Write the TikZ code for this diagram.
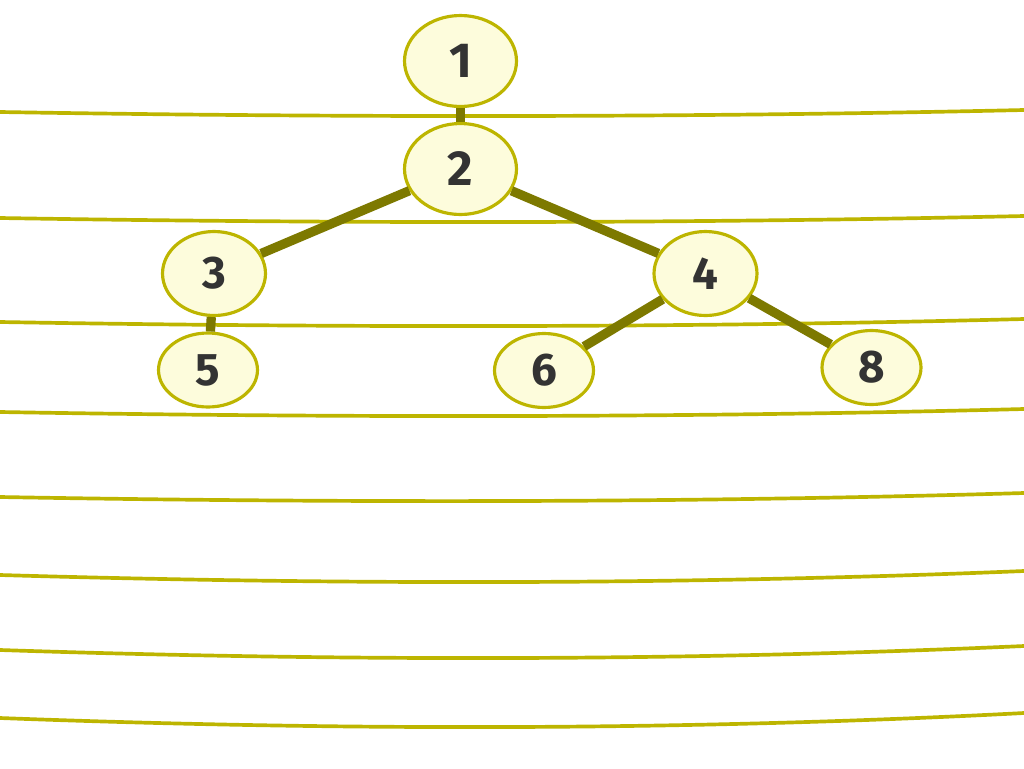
\documentclass[tikz,border=0pt]{standalone}
\usepackage{fontspec}
\setmainfont{Fira Sans}
\usepackage{tikz}
\usetikzlibrary{shapes.geometric}

\definecolor{rule}{RGB}{189,181,0}
\definecolor{branch}{RGB}{125,121,0}
\definecolor{cream}{RGB}{253,252,220}
\definecolor{ink}{RGB}{51,51,51}

\begin{document}
\begin{tikzpicture}[
            x = 0.02cm, y = -0.02cm, % one unit per pixel
            key/.style = {ellipse, draw = rule, fill = cream, line width = 1.8pt,
                          inner sep = 0pt, text = ink, font = \bfseries\fontsize{26}{26}\selectfont},
            big/.style = {key, minimum width = 2.24cm, minimum height = 1.82cm,
                          font = \bfseries\fontsize{28}{28}\selectfont},
            mid/.style = {key, minimum width = 2.06cm, minimum height = 1.68cm},
            small/.style = {key, minimum width = 1.98cm, minimum height = 1.48cm},
            link/.style = {draw = branch, line width = 5.3pt},
            paper/.style = {draw = rule, line width = 2.1pt}
        ]

	\useasboundingbox (0,0) rectangle (1024,768);

	% ruled background, each line sags a little in the middle
	\foreach \l/\m/\r in {112/116/110, 218/222/216, 322/326/319, 412/416/409,
	                      497/501/493, 575/582/571, 650/658/646, 718/727/713} {
		\pgfmathsetmacro{\c}{(8*\m-\l-\r)/6}
		\draw[paper] (0,\l) .. controls (341,\c) and (683,\c) .. (1024,\r);
	}

	\node[big] (n1) at (460.5,61) {1};
	\node[big] (n2) at (460.5,169) {2};
	\node[mid] (n3) at (214,273.5) {3};
	\node[mid] (n4) at (705.5,273.5) {4};
	\node[small] (n5) at (208,370) {5};
	\node[small] (n6) at (544,370.5) {6};
	\node[small] (n8) at (871.5,367.5) {8};

	\draw[link] (n1) -- (n2);
	\draw[link] (n2) -- (n3);
	\draw[link] (n2) -- (n4);
	\draw[link] (n3) -- (n5);
	\draw[link] (n4) -- (n6);
	\draw[link] (n4) -- (n8);

\end{tikzpicture}
\end{document}
